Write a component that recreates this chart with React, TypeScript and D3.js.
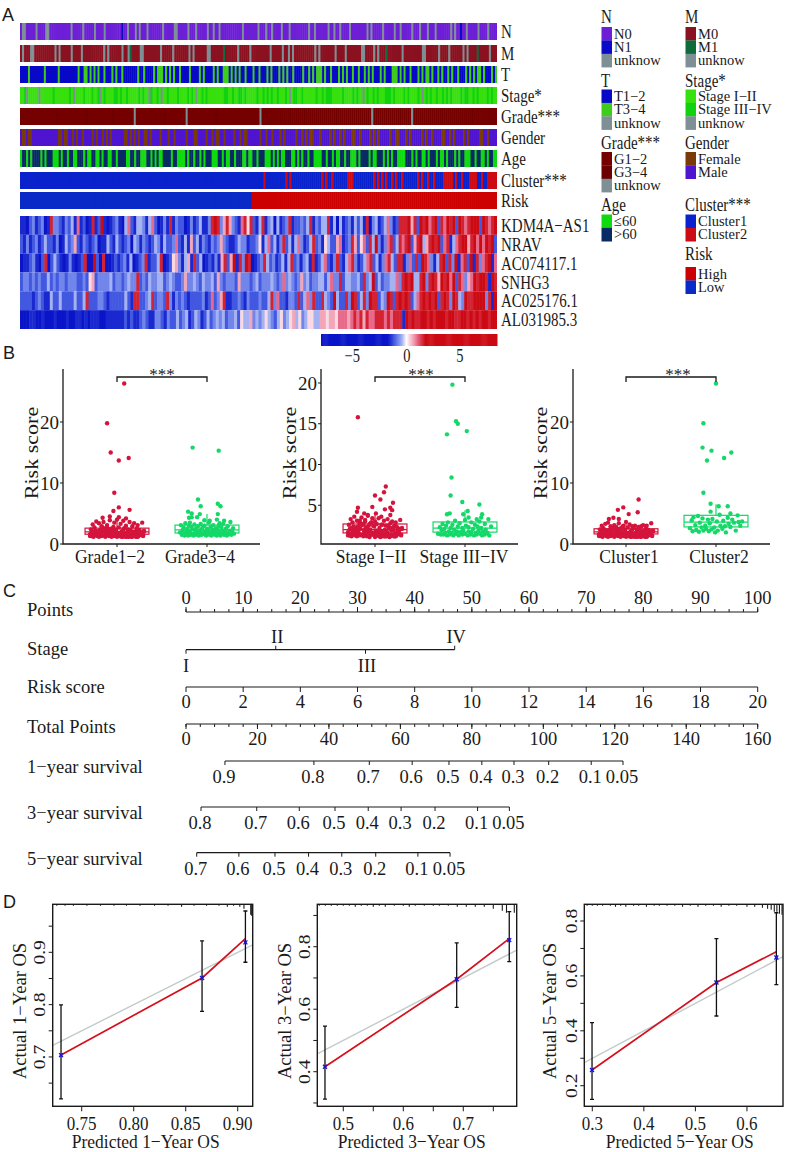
import React from "react";
import * as d3 from "d3";

const SERIF = "'Liberation Serif','Times New Roman',serif";
const SANS = "'Liberation Sans',Arial,sans-serif";
const INK = "#1a1a1a";

// ---------- Panel A data ----------
const sampleCount = 239;
const nRow = "auuaaaaauaaaauuaaaaaaaaaaauaaaaauaaaaauaaaauaaaaaaaabaauaaauauaaauaaaaaaauaaaaauuaaaaauaaauaaaaauaauaauaaaaaaaaaaauaaaaaaauaaauaauaaaauaaauaaaaaaaaauaauaaaaaauaauaauaaaauaaaaaaaauauaaaaauaaaaauaauaaaaauaaauaaauaaauaaaaaaauauaabaauaaaaauaaaauaaaa";
const mRow = "mummmuummmmmmmmmmumummmmmummmmummmmmmmmmmumummmmmmummugmmmmuummmmmmmmummmmmummmmmmmumummmmmmuummmmmmgmmmmmmummmmmummmmmmmmmummmmmummumummmmmmmmmmumummmmmmmummmmummmmmmmuummmmumummmgmmmmmmmummmmmmmmmuummmmmmummmmummmmmmumummmmgmmmmmummm";
const tRow = "bbbbgbbbbbbbgbbbbbbgbbbbbbbbbgbbggbgbgbgbbgbbbgbgbbgbbbbbbbgbbgbbbbgbgggbgbgbgbbgbbbbgbbbbgbgbbbbgbgbbgggbgbgbgbbgbbbgbbgbbbgbgbbbgbgbgbbgbbbbgbbgbgbgggbgbbgbbbgbgbgbbgbbgbbgbgbgbbbgbgbbbgggbgbgbbgbbbgbgbggbgbbgbgbbgbgbbgbbbgbgbgbggbgbbbgbg";
const stageRow = "lldulllllulllllldllllllldlulllldllldllduldllllddldlldllllldldlludlldlulldlllldlllldldlulldldllllllllddlldllddldllllldlldldldlldllldlulddlldlllllldlldldddllllldlllldldlluldlldldllldddldlllldldlllldluldldlldlldldldlllldlddlldldlllldldll";
const gradeUnknown = [57, 83, 120, 176, 196];
const gradeHigh = [18, 33, 46, 72, 98, 135, 142, 158, 190, 211, 226];
const genderRow = "mffmffmmmmmmmmmmmmmffmffmmfmfmmfmmmmfmfmmfmfmfmmmmmmffmfmfmfmmffmfmmmmfmmmfmmfmmmmmfmmmffmmmmfmmfmffmmfmmmmfmmfmffmmmmmmfmmfmmfmmmfmfmmmmmfmmfmfmffmmmfmmmmfmfmmfmfmmmffmmfmmmmfmfmfmmmmmfmmffmmmfmfmmmmmfmfmmfmmmmffmmfmfmmmmfmfmmmmmffmmfmmmm";
const ageRow = "ynnynynnnnynynnnyyynynnynnyynnnynyynnyynynnyynnynnnnyynnynnyyynnynynyynnnnynnyyyynynnynnynynnnyyynnynyynnynnnyynyynnynnnyyynynynyynnnyynynynnynnyyyynnynnynyynnynnyyynynnnnynyynnnynynynnyyyynnnynynnyynynnnynyynynnnynynnyyynnynnyynynnyy";
const cluster2Samples = [122, 133, 135, 151, 153, 156, 164, 165, 166, 177, 179, 181, 183, 186, 188, 191, 199, 201, 204, 207, 212, 213, 214, 215, 216, 218, 221, 225, 226, 227, 228, 231, 234, 235, 236, 237, 238];
const riskLowCount = 116;
const annotationNames = ["N", "M", "T", "Stage*", "Grade***", "Gender", "Age", "Cluster***", "Risk"];
const geneNames = ["KDM4A−AS1", "NRAV", "AC074117.1", "SNHG3", "AC025176.1", "AL031985.3"];
const exprLevels = [-3, -1.6, -1.1, -0.75, -0.42, 0.25, 0.6, 1, 1.6, 3];
const exprRows = [
  "110231230183321324171201812910123104721443147201318132201312411389836863217858" + "2148134041238122324813244814041231424180341247312888968298978928798929878999298789",
  "213123124221301423621321230114214212304313212431422372141624132132363211243312" + "2351472413824147312482315422671238625728493137824878926894689892781478996897979892",
  "011231028024210131012800920800121231401238122480125631461824012131682691839" + "8012384231241482313418124721382147831247824137842881372829873148928391782918378917",
  "233232322423233233322325623333423323433823243344234322363343243342632333263332" + "3423334323734323634233442473382443342834924233447389894489389869897928736798998198",
  "222212321142242222422482223321222224218822348233283132321222231272368112232132" + "2232248372213328247382284329422839824839882439828989824789898928983984398899993819",
  "000110010001000100110101110011111121211232113321322423412431242343423342544634" + "345432453456453455446656657776787868778887878881989889989899989988998989899899",
];
const colorbarTicks = [-5, 0, 5];

// legend data
const legendN = ["N0", "N1", "unknow"];
const legendM = ["M0", "M1", "unknow"];
const legendT = ["T1−2", "T3−4", "unknow"];
const legendStage = ["Stage I−II", "Stage III−IV", "unknow"];
const legendGrade = ["G1−2", "G3−4", "unknow"];
const legendGender = ["Female", "Male"];
const legendAge = ["≤60", ">60"];
const legendCluster = ["Cluster1", "Cluster2"];
const legendRisk = ["High", "Low"];

const cN = { a: "#6d1fd6", b: "#0a0ac8", u: "#7e9095" };
const cM = { m: "#8a1220", g: "#0f6a3c", u: "#7e9095" };
const cT = { b: "#0808c8", g: "#3fcc1c", u: "#7e9095" };
const cStage = { l: "#38e00e", d: "#10d210", u: "#7e9095" };
const cGender = { f: "#7a3a08", m: "#4e14d0" };
const cAge = { y: "#0fd90f", n: "#0a2a66" };
const cGrade = { low: "#740000", high: "#6c0000", unknown: "#7e9095" };
const cCluster = ["#0a22cc", "#cc0a14"];
const cRisk = { high: "#cc0000", low: "#0a2ac8" };

// ---------- Panel B data ----------
const swarmOffsets = [-0.3, -0.29, -0.28, -0.27, -0.26, -0.26, -0.25, -0.24, -0.23, -0.23, -0.22, -0.21, -0.2, -0.2, -0.19, -0.18, -0.17, -0.17, -0.16, -0.15, -0.14, -0.13, -0.13, -0.12, -0.11, -0.1, -0.1, -0.09, -0.08, -0.07, -0.07, -0.06, -0.05, -0.04, -0.03, -0.03, -0.02, -0.01, 0, 0, 0.01, 0.02, 0.03, 0.04, 0.04, 0.05, 0.06, 0.07, 0.07, 0.08, 0.09, 0.1, 0.11, 0.11, 0.12, 0.13, 0.14, 0.14, 0.15, 0.16, 0.17, 0.18, 0.18, 0.19, 0.2, 0.21, 0.22, 0.22, 0.23, 0.24, 0.25, 0.26, 0.27, 0.28, 0.29, 0.3];
const denseOffsets = [-0.29, -0.12, 0.05, 0.21, -0.25, -0.06, 0.14, 0.28, -0.2, -0.02, 0.09, 0.25, -0.16, 0.01, 0.18, -0.27, -0.09, 0.07, 0.23, -0.22, -0.04, 0.12, 0.29, -0.18, 0.03, 0.16, -0.14, -0.28, 0.1, 0.26, -0.24, -0.07, 0.19, -0.11, 0.06, 0.22, -0.26, -0.01, 0.15, -0.19, 0.02, 0.27, -0.13, -0.05, 0.11, -0.23, 0.08, 0.2, -0.17, -0.03, 0.13, 0.24, -0.21, -0.08, 0.17, -0.15, 0.04, -0.1, 0.3, -0.3];
const grade12Scores = [1.6, 2.4, 1.3, 3.2, 1.9, 1.2, 2.7, 1.5, 3.7, 2.1, 1.3, 1.8, 3.4, 1.2, 2.3, 1.6, 2.9, 1.3, 2.0, 3.6, 1.4, 2.6, 1.2, 1.8, 3.1, 1.5, 2.2, 1.3, 3.9, 1.7, 2.5, 1.2, 1.9, 2.8, 1.4, 3.5, 1.6, 2.3, 1.2, 4.0, 1.8, 2.7, 1.3, 3.3, 1.5, 2.1, 1.2, 3.8, 1.7, 2.6, 1.4, 3.0, 1.3, 1.9, 2.4, 1.2, 3.6, 1.6, 2.2, 1.3, 2.9, 1.8, 1.4, 3.4, 2.0, 1.2, 2.6, 1.6, 3.1, 1.3, 2.3, 1.5, 1.9, 3.5, 1.4, 2.2];
const grade12Dense = [1.4, 1.8, 1.2, 2.1, 1.6, 2.4, 1.3, 1.9, 1.5, 2.2, 1.2, 1.7, 2.5, 1.4, 2.0, 1.3, 1.6, 2.3, 1.2, 1.8, 2.6, 1.5, 1.3, 2.1, 1.7, 1.2, 2.4, 1.9, 1.4, 1.6, 2.2, 1.3, 1.8, 2.7, 1.5, 1.2, 2.0, 1.4, 2.3, 1.7, 1.3, 1.9, 2.5, 1.6, 1.2, 2.1, 1.5, 1.8, 2.8, 1.3, 1.6, 2.2, 1.4, 1.9, 1.2, 2.4, 1.7, 1.5, 2.0, 1.3];
const grade34Scores = [1.9, 3.1, 1.5, 2.3, 1.7, 2.7, 1.4, 3.4, 2.0, 1.6, 2.5, 1.4, 3.0, 1.9, 2.2, 1.5, 2.8, 1.7, 2.4, 1.4, 3.2, 2.0, 1.6, 2.6, 1.5, 2.1, 2.9, 1.4, 1.8, 3.3, 2.3, 1.5, 2.7, 1.7, 2.0, 3.0, 1.6, 1.4, 2.5, 1.8, 2.2, 3.5, 1.5, 2.8, 1.9, 1.4, 2.4, 1.7, 3.1, 2.1, 1.5, 2.6, 1.8, 1.4, 2.3, 3.0, 1.6, 2.0, 1.4, 2.7, 1.7, 2.2, 3.3, 1.5, 1.9, 2.5, 1.4, 1.8, 2.9, 1.6, 2.2, 3.6, 1.5, 2.0, 2.6, 1.7];
const stage12Scores = [1.7, 2.6, 1.3, 3.3, 2.0, 1.2, 2.9, 1.5, 3.6, 2.2, 1.3, 1.9, 3.1, 1.2, 2.4, 1.6, 2.8, 1.3, 2.1, 3.5, 1.4, 2.7, 1.2, 1.8, 3.2, 1.5, 2.3, 1.2, 3.7, 1.7, 2.5, 1.1, 2.0, 2.9, 1.4, 3.4, 1.6, 2.4, 1.1, 3.0, 1.9, 2.7, 1.3, 3.4, 1.5, 2.2, 1.1, 3.6, 1.8, 2.6, 1.4, 3.1, 1.2, 2.0, 2.5, 1.2, 3.3, 1.6, 2.3, 1.3, 2.8, 1.9, 1.4, 3.0, 2.1, 1.2, 2.5, 1.6, 2.9, 1.3, 2.2, 1.5, 1.9, 3.2, 1.4, 2.1];
const stage12Dense = [1.5, 2.0, 1.2, 2.4, 1.7, 2.7, 1.3, 2.1, 1.6, 2.5, 1.2, 1.9, 2.8, 1.4, 2.2, 1.3, 1.8, 2.6, 1.2, 2.0, 2.9, 1.5, 1.3, 2.3, 1.8, 1.1, 2.6, 2.1, 1.4, 1.7, 2.4, 1.3, 2.0, 3.0, 1.6, 1.2, 2.2, 1.5, 2.5, 1.9, 1.3, 2.1, 2.7, 1.7, 1.2, 2.3, 1.6, 2.0, 3.1, 1.4, 1.8, 2.4, 1.5, 2.1, 1.2, 2.6, 1.9, 1.6, 2.2, 1.3];
const stage34Scores = [1.5, 2.3, 1.4, 1.9, 2.7, 1.4, 2.1, 1.6, 2.5, 1.3, 2.9, 1.8, 1.4, 2.2, 1.6, 2.6, 1.3, 2.0, 3.1, 1.5, 1.8, 2.4, 1.3, 2.8, 1.7, 1.4, 2.2, 1.9, 3.2, 1.5, 2.5, 1.3, 1.8, 2.3, 1.4, 2.9, 1.7, 2.1, 1.3, 2.6, 1.6, 1.4, 2.4, 1.9, 3.0, 1.5, 2.2, 1.3, 1.8, 2.7, 1.4, 2.0, 1.6, 3.3, 1.3, 2.4, 1.7, 2.1, 1.4, 2.8, 1.6, 1.3, 2.3, 1.9, 3.1, 1.5, 2.5, 1.4, 2.0, 1.7, 2.9, 1.3, 2.2, 1.6, 3.4, 1.8];
const cluster1Scores = [1.6, 2.4, 1.3, 3.0, 1.9, 1.2, 2.6, 1.5, 3.3, 2.1, 1.3, 1.8, 3.5, 1.2, 2.3, 1.6, 2.8, 1.3, 2.0, 2.5, 1.4, 3.1, 1.2, 1.8, 2.7, 1.5, 2.2, 1.3, 3.4, 1.7, 2.5, 1.2, 1.9, 2.8, 1.4, 3.0, 1.6, 2.3, 1.2, 3.6, 1.8, 2.7, 1.3, 3.2, 1.5, 2.1, 1.2, 2.9, 1.7, 2.6, 1.4, 3.0, 1.3, 1.9, 2.4, 1.2, 2.8, 1.6, 2.2, 1.3, 2.9, 1.8, 1.4, 3.1, 2.0, 1.2, 2.6, 1.6, 3.0, 1.3, 2.3, 1.5, 1.9, 3.4, 1.4, 2.2];
const cluster1Dense = [1.4, 1.9, 1.2, 2.2, 1.6, 2.5, 1.3, 2.0, 1.5, 2.3, 1.2, 1.8, 2.6, 1.4, 2.1, 1.3, 1.7, 2.4, 1.2, 1.9, 2.7, 1.5, 1.3, 2.2, 1.7, 1.2, 2.5, 2.0, 1.4, 1.6, 2.3, 1.3, 1.9, 2.8, 1.5, 1.2, 2.1, 1.4, 2.4, 1.8, 1.3, 2.0, 2.6, 1.6, 1.2, 2.2, 1.5, 1.9, 2.9, 1.3, 1.7, 2.3, 1.4, 2.0, 1.2, 2.5, 1.8, 1.5, 2.1, 1.3];
const cluster2Offsets = [-0.29, -0.27, -0.26, -0.25, -0.23, -0.22, -0.2, -0.19, -0.18, -0.16, -0.15, -0.14, -0.12, -0.11, -0.09, -0.08, -0.07, -0.05, -0.04, -0.02, -0.01, 0.01, 0.02, 0.04, 0.05, 0.07, 0.08, 0.1, 0.11, 0.13, 0.14, 0.16, 0.18, 0.2, 0.22, 0.24, 0.25, 0.27, 0.29];
const cluster2Scores = [2.6, 3.9, 2.1, 4.4, 3.1, 2.3, 4.6, 2.0, 3.5, 2.7, 4.2, 2.2, 3.0, 2.5, 4.0, 2.1, 3.4, 2.4, 4.1, 2.7, 1.9, 3.7, 2.2, 4.8, 3.0, 2.5, 3.8, 2.9, 1.9, 4.3, 3.3, 2.8, 4.0, 3.5, 2.2, 4.7, 3.6, 3.0, 3.7];

const grade12Outliers = [[0.08, 26.3], [-0.11, 19.8], [-0.07, 15], [0.02, 13.7], [0.13, 14.1], [-0.03, 8.4], [0.02, 6], [-0.04, 5.4], [0.14, 5.6], [-0.16, 4.3], [-0.08, 4.5], [0.02, 4.4], [0.1, 4.2]];
const grade34Outliers = [[-0.16, 15.8], [0.13, 15.3], [-0.1, 7.3], [0.12, 6.6], [0.15, 6.2], [-0.07, 6.2], [-0.21, 5.3], [-0.17, 5], [-0.08, 4.9], [0.12, 4.9], [-0.2, 4.3], [-0.17, 4.4], [-0.11, 4.4], [0.11, 4], [-0.03, 3.9], [0.19, 3.8], [0.03, 3.8], [-0.19, 3.5], [0.14, 3.4]];
const stage12Outliers = [[-0.19, 15.8], [0.12, 7.3], [0.1, 6.6], [0, 6.2], [0.06, 5.7], [0.2, 5.3], [-0.03, 4.8], [0.11, 4.5], [0.17, 4.7], [0.19, 4.4], [-0.19, 4.7], [-0.2, 4.2], [-0.12, 4], [-0.08, 3.8], [0.01, 4], [0.17, 3.8]];
const stage34Outliers = [[-0.14, 19.8], [-0.1, 15.3], [-0.08, 15], [0.02, 14.1], [-0.2, 13.7], [-0.15, 8.4], [-0.16, 6.2], [-0.03, 5.4], [0.16, 5.1], [0.03, 4.3], [-0.2, 3.9], [-0.17, 4], [-0.02, 3.9], [0.19, 3.9], [0.18, 3.5], [0.04, 3.5], [0.13, 3.3]];
const cluster1Outliers = [[0.14, 7.3], [-0.03, 6], [-0.09, 5.6], [0.13, 5.2], [0.03, 4.9], [-0.14, 4.3], [-0.19, 4.1], [-0.08, 4.1]];
const cluster2Outliers = [[0, 26.3], [-0.14, 19.8], [-0.15, 15.8], [-0.05, 15.3], [0.17, 15], [0.09, 14.1], [-0.1, 13.7], [-0.14, 8.4], [-0.06, 6.6], [0.13, 6.2], [0.03, 6.2], [-0.06, 5.3], [0.16, 5]];
const boxStats = {
  grade12: [1.6, 2.0, 2.6, 4],
  grade34: [1.8, 2.3, 3.1, 4.9],
  stage12: [1.6, 2.0, 2.7, 4],
  stage34: [1.7, 2.2, 2.95, 4.4],
  cluster1: [1.65, 2.0, 2.5, 3.5],
  cluster2: [2.8, 3.6, 4.7, 6.5],
};
const RED = "#d4143c";
const GREEN = "#14d868";

const boxPanels = [
  {
    yAxisX: 63, xEnd: 260, ticksX: [117, 207], yRange: [544, 422], yDomain: [0, 20], yTicks: [0, 10, 20],
    labels: ["Grade1−2", "Grade3−4"], labelX: [110, 200], titleX: 38, starX: 162,
    boxes: [
      { stats: boxStats.grade12, scores: grade12Scores, offs: swarmOffsets, dense: grade12Dense, out: grade12Outliers },
      { stats: boxStats.grade34, scores: grade34Scores, offs: swarmOffsets, dense: [], out: grade34Outliers },
    ],
  },
  {
    yAxisX: 321, xEnd: 518, ticksX: [375, 465], yRange: [546, 383], yDomain: [0, 20], yTicks: [5, 10, 15, 20],
    labels: ["Stage I−II", "Stage III−IV"], labelX: [371, 464], titleX: 296, starX: 421,
    boxes: [
      { stats: boxStats.stage12, scores: stage12Scores, offs: swarmOffsets, dense: stage12Dense, out: stage12Outliers },
      { stats: boxStats.stage34, scores: stage34Scores.slice(0, 56), offs: swarmOffsets.filter((_, i) => i % 4 !== 1), dense: [], out: stage34Outliers },
    ],
  },
  {
    yAxisX: 573, xEnd: 770, ticksX: [626, 716], yRange: [544, 422], yDomain: [0, 20], yTicks: [0, 10, 20],
    labels: ["Cluster1", "Cluster2"], labelX: [629, 719], titleX: 547, starX: 678,
    boxes: [
      { stats: boxStats.cluster1, scores: cluster1Scores, offs: swarmOffsets, dense: cluster1Dense, out: cluster1Outliers },
      { stats: boxStats.cluster2, scores: cluster2Scores, offs: cluster2Offsets, dense: [], out: cluster2Outliers },
    ],
  },
];

// ---------- Panel C data ----------
const pointsMajor = d3.range(0, 101, 10);
const pointsMinor = d3.range(0, 100.1, 2.5);
const riskScoreTicks = d3.range(0, 21, 2);
const totalMajor = d3.range(0, 161, 20);
const totalMinor = d3.range(0, 160.1, 4);
const stagePoints = [["I", 0], ["II", 15.7], ["III", 31.4], ["IV", 47]];
const surv1 = [[0.9, 10.9], [0.8, 35.8], [0.7, 51.3], [0.6, 63.3], [0.5, 73.6], [0.4, 82.8], [0.3, 91.8], [0.2, 101.5], [0.1, 113.4], [0.05, 122.3]];
const surv3 = [[0.8, 4.2], [0.7, 19.8], [0.6, 31.7], [0.5, 41.7], [0.4, 51], [0.3, 60.2], [0.2, 69.7], [0.1, 81.6], [0.05, 90.5]];
const surv5 = [[0.7, 3.0], [0.6, 14.8], [0.5, 24.9], [0.4, 34.3], [0.3, 43.6], [0.2, 53.1], [0.1, 64.9], [0.05, 73.9]];
const nomoLabels = [["Points", 616], ["Stage", 655], ["Risk score", 693], ["Total Points", 733], ["1−year survival", 773], ["3−year survival", 819], ["5−year survival", 865]];

// ---------- Panel D data ----------
const calib = [
  {
    box: [52.7, 252.7], xDom: [0.7221, 0.9144], yDom: [0.6057, 0.9918],
    xTicks: [0.75, 0.8, 0.85, 0.9], xFmt: ".2f", xMinor: [], yTicks: [0.7, 0.8, 0.9], yMinor: [0.65, 0.75, 0.85, 0.95],
    pred: [0.7301, 0.8657, 0.9074], act: [0.7038, 0.851, 0.926], cross: [0.7035, 0.851, 0.919],
    lo: [0.62, 0.787, 0.881], hi: [0.7995, 0.922, 0.979],
    rug: [[0.726, 1], [0.734, 1], [0.742, 1], [0.755, 1], [0.768, 1], [0.781, 1], [0.793, 1], [0.806, 1], [0.82, 1], [0.833, 1], [0.846, 2], [0.858, 1], [0.87, 1], [0.882, 1], [0.89, 2], [0.896, 1], [0.902, 2], [0.906, 4], [0.9125, 10], [0.9134, 11]],
    xLabel: "Predicted 1−Year OS", yLabel: "Actual 1−Year OS", xTitleC: 145.7, yTitleX: 26, yTickX: 45,
  },
  {
    box: [317.3, 516.7], xDom: [0.4567, 0.789], yDom: [0.2893, 0.9357],
    xTicks: [0.5, 0.6, 0.7], xFmt: ".1f", xMinor: [0.55, 0.65, 0.75], yTicks: [0.4, 0.6, 0.8], yMinor: [0.3, 0.5, 0.7, 0.9],
    pred: [0.4695, 0.689, 0.7766], act: [0.416, 0.696, 0.826], cross: [0.416, 0.696, 0.821],
    lo: [0.312, 0.606, 0.752], hi: [0.546, 0.812, 0.912],
    rug: [[0.46, 1], [0.47, 1], [0.48, 1], [0.49, 1], [0.5, 1], [0.51, 1], [0.52, 2], [0.53, 1], [0.54, 1], [0.55, 2], [0.56, 1], [0.57, 2], [0.585, 1], [0.6, 1], [0.61, 2], [0.62, 1], [0.635, 1], [0.65, 1], [0.66, 1], [0.675, 1], [0.69, 2], [0.705, 2], [0.72, 2], [0.735, 2], [0.75, 4], [0.765, 6], [0.772, 8], [0.785, 8]],
    xLabel: "Predicted 3−Year OS", yLabel: "Actual 3−Year OS", xTitleC: 411.7, yTitleX: 291, yTickX: 310,
  },
  {
    box: [584.3, 783], xDom: [0.2845, 0.6699], yDom: [0.125, 0.8608],
    xTicks: [0.3, 0.4, 0.5, 0.6], xFmt: ".1f", xMinor: [], yTicks: [0.2, 0.4, 0.6, 0.8], yMinor: [0.3, 0.5, 0.7],
    pred: [0.2995, 0.5408, 0.657], act: [0.257, 0.576, 0.688], cross: [0.257, 0.576, 0.667],
    lo: [0.15, 0.454, 0.568], hi: [0.43, 0.736, 0.83],
    rug: [[0.29, 1], [0.3, 1], [0.31, 1], [0.32, 1], [0.335, 1], [0.345, 2], [0.355, 1], [0.365, 2], [0.38, 1], [0.39, 1], [0.405, 2], [0.42, 1], [0.43, 1], [0.445, 1], [0.46, 1], [0.475, 2], [0.49, 1], [0.505, 2], [0.52, 1], [0.535, 1], [0.55, 2], [0.565, 1], [0.58, 1], [0.6, 2], [0.615, 2], [0.63, 3], [0.64, 4], [0.647, 5], [0.653, 7], [0.658, 7], [0.663, 9], [0.668, 10]],
    xLabel: "Predicted 5−Year OS", yLabel: "Actual 5−Year OS", xTitleC: 679.7, yTitleX: 556, yTickX: 577,
  },
];

const exprColor = d3
  .scaleLinear<string>()
  .domain([-8, -1.8, -1, -0.4, 0, 0.4, 1, 1.8, 8])
  .range(["#0a14c8", "#0a14c8", "#4a62e4", "#a8b5f2", "#ffffff", "#f6c4d2", "#e86a8a", "#cc0a14", "#cc0a14"]);

const annotationY = d3.scaleOrdinal<string, number>().domain(annotationNames).range([23, 45, 66, 87, 108, 129, 150, 172, 192]);
const annotationH = 17;
const stripX = d3.scaleLinear().domain([0, 1]).range([20, 497]);

// Text stretched along its own direction axes, as in the source figure.
function T({ x, y, rotate = 0, sx = 1, sy = 1, size, anchor = "start", children }: any) {
  return (
    <text transform={`translate(${x},${y}) rotate(${rotate}) scale(${sx},${sy})`} fontSize={size} textAnchor={anchor}>
      {children}
    </text>
  );
}

function Strip({ values, y, h, color }: any) {
  const n = values.length;
  const x = d3.scaleBand<number>().domain(d3.range(n)).range(stripX.range() as [number, number]);
  return (
    <g>
      {values.map((v: any, i: number) => (
        <rect key={i} x={x(i)} y={y} width={x.bandwidth() + (i < n - 1 ? 0.5 : 0)} height={h} fill={color(v)} />
      ))}
    </g>
  );
}

function PanelA() {
  const gradeVals = d3.range(sampleCount).map((i) => (gradeUnknown.includes(i) ? "unknown" : gradeHigh.includes(i) ? "high" : "low"));
  const clusterVals = d3.range(sampleCount).map((i) => (cluster2Samples.includes(i) ? 1 : 0));
  const riskVals = d3.range(sampleCount).map((i) => (i < riskLowCount ? "low" : "high"));
  const rows: any[] = [
    [nRow.split(""), (v: string) => (cN as any)[v]],
    [mRow.split(""), (v: string) => (cM as any)[v]],
    [tRow.split(""), (v: string) => (cT as any)[v]],
    [stageRow.split(""), (v: string) => (cStage as any)[v]],
    [gradeVals, (v: string) => (cGrade as any)[v]],
    [genderRow.split(""), (v: string) => (cGender as any)[v]],
    [ageRow.split(""), (v: string) => (cAge as any)[v]],
    [clusterVals, (v: number) => cCluster[v]],
    [riskVals, (v: string) => (cRisk as any)[v]],
  ];
  const geneY = d3.scaleBand().domain(geneNames).range([216, 329]);
  const barX = d3.scaleLinear().domain([-8.0, 8.6]).range([321, 497]);
  const barSteps = d3.range(-8, 8.6, 0.1);
  return (
    <g fontFamily={SERIF} fill={INK}>
      {rows.map(([vals, col], i) => (
        <g key={i}>
          <Strip values={vals} y={annotationY(annotationNames[i])} h={annotationH} color={col} />
          <T x={501} y={annotationY(annotationNames[i]) + 14.5} size={15} sy={1.25}>
            {annotationNames[i]}
          </T>
        </g>
      ))}
      {geneNames.map((g, i) => (
        <g key={g}>
          <Strip values={exprRows[i].split("").map((c) => exprLevels[+c])} y={geneY(g)} h={geneY.bandwidth()} color={exprColor} />
          <T x={501} y={(geneY(g) as number) + 16} size={15} sy={1.25}>
            {g}
          </T>
        </g>
      ))}
      {barSteps.map((v) => (
        <rect key={v} x={barX(v)} y={334} width={barX(0.1) - barX(0) + 0.5} height={12} fill={exprColor(v)} />
      ))}
      {colorbarTicks.map((t) => (
        <T key={t} x={barX(t) + (t < 0 ? -0.5 : 1)} y={362} size={14.5} sy={1.25} anchor="middle">
          {t < 0 ? "−" + Math.abs(t) : t}
        </T>
      ))}
    </g>
  );
}

function Legend({ x, title, titleY, swatchY, items, colors }: any) {
  const h = 13.4;
  return (
    <g fontFamily={SERIF} fill={INK}>
      <T x={x} y={titleY} size={15} sy={1.25}>
        {title}
      </T>
      {items.map((it: string, i: number) => (
        <g key={it}>
          <rect x={x + 0.5} y={swatchY + i * h} width={10.5} height={h + 0.2} fill={colors[i]} />
          <text x={x + 13} y={swatchY + i * h + 11.5} fontSize={14.5}>
            {it}
          </text>
        </g>
      ))}
    </g>
  );
}

function PanelALegend() {
  const c1 = 601;
  const c2 = 685;
  const u = "#7e9095";
  return (
    <g>
      <Legend x={c1} title="N" titleY={23} swatchY={27} items={legendN} colors={[cN.a, cN.b, u]} />
      <Legend x={c2} title="M" titleY={23} swatchY={27} items={legendM} colors={[cM.m, cM.g, u]} />
      <Legend x={c1} title="T" titleY={87} swatchY={89.5} items={legendT} colors={[cT.b, cT.g, u]} />
      <Legend x={c2} title="Stage*" titleY={87} swatchY={89.5} items={legendStage} colors={[cStage.l, cStage.d, u]} />
      <Legend x={c1} title="Grade***" titleY={149} swatchY={152} items={legendGrade} colors={[cGrade.low, cGrade.high, u]} />
      <Legend x={c2} title="Gender" titleY={149} swatchY={152} items={legendGender} colors={[cGender.f, cGender.m]} />
      <Legend x={c1} title="Age" titleY={211} swatchY={214.5} items={legendAge} colors={[cAge.y, cAge.n]} />
      <Legend x={c2} title="Cluster***" titleY={211} swatchY={214.5} items={legendCluster} colors={cCluster} />
      <Legend x={c2} title="Risk" titleY={260} swatchY={267} items={legendRisk} colors={[cRisk.high, cRisk.low]} />
    </g>
  );
}

function BoxPanel({ p }: any) {
  const y = d3.scaleLinear().domain(p.yDomain).range(p.yRange);
  const x = d3.scaleLinear().domain([0, 1]).range(p.ticksX);
  const half = 0.355;
  const yMid = 453;
  const r = 2.2;
  return (
    <g fontFamily={SERIF} fill={INK}>
      {p.boxes.map((b: any, i: number) => {
        const col = i === 0 ? RED : GREEN;
        const [q1, med, q3, whisk] = b.stats;
        return (
          <g key={i}>
            <rect x={x(i - half)} y={y(q3)} width={x(i + half) - x(i - half)} height={y(q1) - y(q3)} fill="#fff" stroke={col} strokeWidth={1.2} />
            <line x1={x(i - half)} x2={x(i + half)} y1={y(med)} y2={y(med)} stroke={col} strokeWidth={1.2} />
            <line x1={x(i)} x2={x(i)} y1={y(q3)} y2={y(whisk)} stroke={col} strokeWidth={1.2} />
            {b.scores.map((v: number, k: number) => (
              <circle key={k} cx={x(i + b.offs[k])} cy={y(v)} r={r} fill={col} />
            ))}
            {b.dense.map((v: number, k: number) => (
              <circle key={"d" + k} cx={x(i + denseOffsets[k])} cy={y(v)} r={r} fill={col} />
            ))}
            {b.out.map(([j, v]: number[], k: number) => (
              <circle key={"o" + k} cx={x(i + j)} cy={y(v)} r={r} fill={col} />
            ))}
          </g>
        );
      })}
      <path d={`M${p.yAxisX},369V544H${p.xEnd}`} fill="none" stroke={INK} strokeWidth={1.3} />
      {p.yTicks.map((t: number) => (
        <g key={t}>
          <line x1={p.yAxisX - 3} x2={p.yAxisX} y1={y(t)} y2={y(t)} stroke={INK} strokeWidth={1} />
          <text x={p.yAxisX - 4} y={y(t) + 6.5} fontSize={19} textAnchor="end">
            {t}
          </text>
        </g>
      ))}
      {p.ticksX.map((tx: number, i: number) => (
        <g key={tx}>
          <line x1={tx} x2={tx} y1={544} y2={547} stroke={INK} strokeWidth={1} />
          <T x={p.labelX[i]} y={563} size={17.5} sy={1.13} anchor="middle">
            {p.labels[i]}
          </T>
        </g>
      ))}
      <T x={p.titleX} y={yMid} rotate={-90} size={19} sx={1.16} anchor="middle">
        Risk score
      </T>
      <path d={`M${p.ticksX[0]},382V377H${p.ticksX[1]}V382`} fill="none" stroke={INK} strokeWidth={1.3} />
      <text x={p.starX} y={380} fontSize={17} textAnchor="middle">
        ***
      </text>
    </g>
  );
}

function NomoAxis({ y, scale, major, minor, side, labelY, majorLen = 5, minorLen = 3 }: any) {
  const dir = side === "up" ? -1 : 1;
  const xs = major.map((t: number) => scale(t));
  const lo = d3.min(xs) as number;
  const hi = d3.max(xs) as number;
  return (
    <g>
      <line x1={lo} x2={hi} y1={y} y2={y} stroke={INK} strokeWidth={1.2} />
      {(minor || []).map((t: number) => (
        <line key={"m" + t} x1={scale(t)} x2={scale(t)} y1={y} y2={y + dir * minorLen} stroke={INK} strokeWidth={1} />
      ))}
      {major.map((t: number) => (
        <g key={t}>
          <line x1={scale(t)} x2={scale(t)} y1={y} y2={y + dir * majorLen} stroke={INK} strokeWidth={1} />
          <text x={scale(t)} y={labelY} fontSize={18.5} textAnchor="middle">
            {t}
          </text>
        </g>
      ))}
    </g>
  );
}

function SurvAxis({ y, scale, pairs, labelY }: any) {
  const xs = pairs.map((p: number[]) => scale(p[1]));
  return (
    <g>
      <line x1={xs[0]} x2={xs[xs.length - 1]} y1={y} y2={y} stroke={INK} strokeWidth={1.2} />
      {pairs.map(([prob, pts]: number[]) => (
        <g key={prob}>
          <line x1={scale(pts)} x2={scale(pts)} y1={y} y2={y + 4} stroke={INK} strokeWidth={1} />
          <text x={scale(pts) - 1} y={labelY} fontSize={18.5} textAnchor="middle">
            {prob}
          </text>
        </g>
      ))}
    </g>
  );
}

function PanelC() {
  const pts = d3.scaleLinear().domain([0, 100]).range([186, 757.7]);
  const risk = d3.scaleLinear().domain([0, 20]).range([186, 757.7]);
  const total = d3.scaleLinear().domain([0, 160]).range([186, 757.7]);
  const stageY = 649.7;
  return (
    <g fontFamily={SERIF} fill={INK}>
      {nomoLabels.map(([t, y]) => (
        <text key={t as string} x={27} y={y as number} fontSize={18.5}>
          {t}
        </text>
      ))}
      <NomoAxis y={612} scale={pts} major={pointsMajor} minor={pointsMinor} side="up" labelY={604} />
      <line x1={pts(0)} x2={pts(47)} y1={stageY} y2={stageY} stroke={INK} strokeWidth={1.2} />
      {stagePoints.map(([name, v], i) => {
        const up = i % 2 === 1;
        return (
          <g key={name as string}>
            <line x1={pts(v as number)} x2={pts(v as number)} y1={stageY} y2={stageY + (up ? -4 : 4)} stroke={INK} strokeWidth={1} />
            <text x={pts(v as number) + (i === 0 ? 0 : 1.5)} y={up ? 643 : 672} fontSize={18.5} textAnchor="middle">
              {name}
            </text>
          </g>
        );
      })}
      <NomoAxis y={687} scale={risk} major={riskScoreTicks} side="down" labelY={708} />
      <NomoAxis y={724} scale={total} major={totalMajor} minor={totalMinor} side="down" labelY={745} />
      <SurvAxis y={761} scale={total} pairs={surv1} labelY={783} />
      <SurvAxis y={807} scale={total} pairs={surv3} labelY={829} />
      <SurvAxis y={852.7} scale={total} pairs={surv5} labelY={875} />
    </g>
  );
}

function Calib({ c }: any) {
  const top = 904.3;
  const bot = 1106.3;
  const x = d3.scaleLinear().domain(c.xDom).range(c.box);
  const y = d3.scaleLinear().domain(c.yDom).range([bot, top]);
  const line = d3.line<number>().x((d) => x(d)).y((_, i) => y(c.act[i]));
  const fmtX = d3.format(c.xFmt);
  const yMidTitle = 1011;
  return (
    <g fontFamily={SERIF} fill={INK}>
      {c.rug.map(([v, h]: number[], i: number) => (
        <line key={i} x1={x(v)} x2={x(v)} y1={top} y2={top + h + 0.5} stroke={INK} strokeWidth={1.1} />
      ))}
      <line x1={x(c.xDom[0])} y1={y(c.xDom[0])} x2={x(c.xDom[1])} y2={y(c.xDom[1])} stroke="#c2cbcb" strokeWidth={1.4} />
      <path d={line(c.pred) as string} fill="none" stroke="#d4101c" strokeWidth={1.7} />
      {c.pred.map((p: number, i: number) => (
        <g key={p}>
          <path d={`M${x(p)},${y(c.hi[i])}V${y(c.lo[i])}M${x(p) - 2},${y(c.hi[i])}h4M${x(p) - 2},${y(c.lo[i])}h4`} fill="none" stroke="#111" strokeWidth={1.3} />
          <path d={`M${x(p) - 2},${y(c.cross[i]) - 2}l4,4M${x(p) + 2},${y(c.cross[i]) - 2}l-4,4`} stroke="#1414e0" strokeWidth={1.3} />
          <circle cx={x(p)} cy={y(c.cross[i])} r={1.3} fill="#1414e0" />
        </g>
      ))}
      <rect x={c.box[0]} y={top} width={c.box[1] - c.box[0]} height={bot - top} fill="none" stroke={INK} strokeWidth={1.4} />
      {c.xTicks.map((t: number) => (
        <g key={t}>
          <line x1={x(t)} x2={x(t)} y1={bot} y2={bot + 5} stroke={INK} strokeWidth={1} />
          <T x={x(t)} y={1130} size={17} sy={1.15} anchor="middle">
            {fmtX(t)}
          </T>
        </g>
      ))}
      {c.xMinor.map((t: number) => (
        <line key={t} x1={x(t)} x2={x(t)} y1={bot} y2={bot + 5} stroke={INK} strokeWidth={1} />
      ))}
      {c.yTicks.map((t: number) => (
        <g key={t}>
          <line x1={c.box[0] - 4} x2={c.box[0]} y1={y(t)} y2={y(t)} stroke={INK} strokeWidth={1} />
          <T x={c.yTickX} y={y(t)} rotate={-90} size={17} sx={1.15} anchor="middle">
            {t.toFixed(1)}
          </T>
        </g>
      ))}
      {c.yMinor.map((t: number) => (
        <line key={t} x1={c.box[0] - 4} x2={c.box[0]} y1={y(t)} y2={y(t)} stroke={INK} strokeWidth={1} />
      ))}
      <T x={c.xTitleC} y={1148} size={17.5} sy={1.12} anchor="middle">
        {c.xLabel}
      </T>
      <T x={c.yTitleX} y={yMidTitle} rotate={-90} size={18} sx={1.03} anchor="middle">
        {c.yLabel}
      </T>
    </g>
  );
}

const panelLetters = [["A", 2, 21], ["B", 3, 359], ["C", 3, 597], ["D", 3, 908]];

export default function App() {
  return (
    <svg
      width={787}
      height={1152}
      viewBox="0 0 787 1152"
      style={{ position: "absolute", left: 0, top: 0, display: "block", background: "#fff" }}
    >
      {panelLetters.map(([t, x, y]) => (
        <text key={t as string} x={x as number} y={y as number} fontSize={18} fontFamily={SANS} fill={INK}>
          {t}
        </text>
      ))}
      <PanelA />
      <PanelALegend />
      {boxPanels.map((p, i) => (
        <BoxPanel key={i} p={p} />
      ))}
      <PanelC />
      {calib.map((c, i) => (
        <Calib key={i} c={c} />
      ))}
    </svg>
  );
}
